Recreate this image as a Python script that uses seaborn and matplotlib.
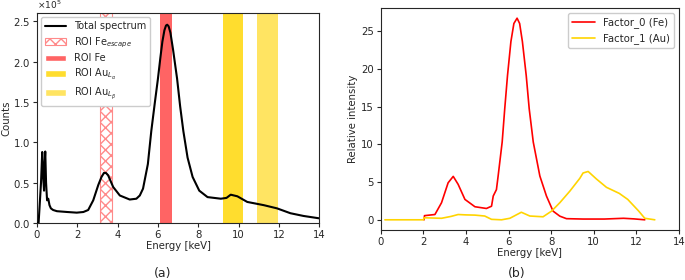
import matplotlib
matplotlib.use("Agg")
import matplotlib.pyplot as plt
import numpy as np
import pandas as pd
import seaborn as sns
from matplotlib.patches import Patch
from matplotlib.lines import Line2D
from matplotlib.ticker import ScalarFormatter

# ---- panel (a): total spectrum, counts in units of 1e5
energia_a = [0, 0.08, 0.2, 0.26, 0.3, 0.35, 0.38, 0.41, 0.45, 0.5, 0.56, 0.62, 0.69, 0.8,
             0.99, 1.5, 1.97, 2.3, 2.54, 2.79, 3.04, 3.2, 3.32, 3.42, 3.53, 3.78, 4.11,
             4.6, 4.93, 5.1, 5.26, 5.5, 5.67, 5.85, 6.0, 6.12, 6.22, 6.32, 6.4, 6.46,
             6.53, 6.62, 6.75, 6.95, 7.1, 7.26, 7.47, 7.72, 8.05, 8.46, 9.12, 9.4, 9.61,
             9.94, 10.43, 11.25, 11.91, 12.57, 13.22, 13.96, 14.0]
cuentas = [0, 0, 0.5, 0.88, 0.60, 0.40, 0.75, 0.886, 0.5, 0.28, 0.30, 0.22, 0.18, 0.16,
           0.145, 0.135, 0.127, 0.135, 0.16, 0.28, 0.47, 0.57, 0.62, 0.62, 0.59, 0.445,
           0.34, 0.29, 0.30, 0.34, 0.425, 0.73, 1.14, 1.5, 1.79, 2.05, 2.25, 2.39, 2.45,
           2.46, 2.44, 2.36, 2.15, 1.79, 1.45, 1.14, 0.81, 0.57, 0.40, 0.32, 0.30, 0.31,
           0.35, 0.33, 0.26, 0.22, 0.18, 0.12, 0.086, 0.058, 0.057]

# ROI windows (keV)
roi_nombres = ["ROI Fe$_{escape}$", "ROI Fe", "ROI Au$_{L_\\alpha}$", "ROI Au$_{L_\\beta}$"]
roi_ini = [3.15, 6.09, 9.21, 10.92]
roi_fin = [3.74, 6.71, 10.23, 11.95]
roi_colores = ["#ff8a8a", "#ff6464", "#ffdd2e", "#ffe462"]

# ---- panel (b): factors
energia_fe = [2.03, 2.05, 2.54, 2.85, 3.16, 3.40, 3.63, 3.95, 4.42, 4.96, 5.2, 5.28, 5.43,
              5.51, 5.70, 5.82, 5.95, 6.11, 6.25, 6.40, 6.52, 6.65, 6.83, 6.97, 7.16,
              7.47, 7.78, 8.09, 8.41, 8.72, 9.5, 10.5, 11.4, 11.9, 12.4]
factor_fe = [0.0, 0.55, 0.7, 2.26, 4.9, 5.75, 4.7, 2.7, 1.73, 1.5, 1.8, 3.15, 4.0, 5.8,
             10.3, 14.7, 19.1, 23.6, 26.0, 26.7, 26.0, 23.6, 19.1, 14.7, 10.3, 5.8, 3.15,
             1.15, 0.48, 0.15, 0.1, 0.1, 0.2, 0.12, 0.0]
energia_au = [0.19, 2.0, 2.03, 2.85, 3.3, 3.63, 4.0, 4.42, 4.88, 5.2, 5.67, 6.06, 6.6,
              7.0, 7.62, 8.02, 8.41, 8.88, 9.35, 9.5, 9.74, 10.13, 10.6, 11.2, 11.6,
              12.1, 12.4, 12.87]
factor_au = [0.0, 0.0, 0.27, 0.2, 0.45, 0.7, 0.65, 0.62, 0.5, 0.06, 0.0, 0.2, 1.0, 0.5,
             0.4, 1.15, 2.27, 3.8, 5.5, 6.2, 6.4, 5.4, 4.3, 3.5, 2.7, 1.2, 0.2, 0.0]

sns.set_style("ticks")
plt.rcParams["font.family"] = ["DejaVu Sans"]
plt.rcParams["font.size"] = 7.3

fig = plt.figure(figsize=(6.85, 2.8), dpi=100)
ax1 = fig.add_axes([0.054, 0.204, 0.412, 0.748])
ax2 = fig.add_axes([0.556, 0.179, 0.435, 0.792])

# ROIs
for i in range(len(roi_nombres)):
    if i == 0:
        ax1.axvspan(roi_ini[i], roi_fin[i], facecolor="white", edgecolor=roi_colores[i],
                    hatch="xxx", lw=0.8, zorder=1)
    else:
        ax1.axvspan(roi_ini[i], roi_fin[i], facecolor=roi_colores[i], edgecolor="none", zorder=1)

df_a = pd.DataFrame({"energia": energia_a, "cuentas": np.array(cuentas) * 1e5})
sns.lineplot(data=df_a, x="energia", y="cuentas", ax=ax1, color="black", lw=1.5,
             estimator=None, zorder=3)
ax1.set_xlim(0, 14)
ax1.set_ylim(0, 2.6e5)
ax1.set_xticks(range(0, 15, 2))
ax1.set_yticks([0, 0.5e5, 1e5, 1.5e5, 2e5, 2.5e5])
fmt = ScalarFormatter(useMathText=True)
fmt.set_powerlimits((0, 0))
ax1.yaxis.set_major_formatter(fmt)
ax1.yaxis.get_offset_text().set_fontsize(6.5)
ax1.set_xlabel("Energy [keV]", labelpad=1)
ax1.set_ylabel("Counts", labelpad=1)

handles = [Line2D([0], [0], color="black", lw=1.5),
           Patch(facecolor="white", edgecolor=roi_colores[0], hatch="xxx", lw=0.8),
           Patch(facecolor=roi_colores[1]), Patch(facecolor=roi_colores[2]),
           Patch(facecolor=roi_colores[3])]
ax1.legend(handles, ["Total spectrum"] + roi_nombres, loc="upper left", fontsize=7,
           framealpha=1, borderaxespad=0.4, handlelength=2.2, labelspacing=0.4)

df_fe = pd.DataFrame({"energia": energia_fe, "intensidad": factor_fe})
df_au = pd.DataFrame({"energia": energia_au, "intensidad": factor_au})
sns.lineplot(data=df_fe, x="energia", y="intensidad", ax=ax2, color="#ff0000", lw=1.2,
             estimator=None, label="Factor_0 (Fe)")
sns.lineplot(data=df_au, x="energia", y="intensidad", ax=ax2, color="#ffd400", lw=1.2,
             estimator=None, label="Factor_1 (Au)")
ax2.set_xlim(0, 14)
ax2.set_xticks(range(0, 15, 2))
ax2.set_yticks([0, 5, 10, 15, 20, 25])
ax2.set_xlabel("Energy [keV]", labelpad=1)
ax2.set_ylabel("Relative intensity", labelpad=2)
ax2.legend(loc="upper right", fontsize=7.3, framealpha=1, handlelength=2.2)

for ax in (ax1, ax2):
    ax.tick_params(labelsize=7.3, length=3, pad=2)

fig.text(0.238, 0.025, "(a)", ha="center", va="center", fontsize=9)
fig.text(0.755, 0.025, "(b)", ha="center", va="center", fontsize=9)

fig.savefig("out.png", dpi=100)
